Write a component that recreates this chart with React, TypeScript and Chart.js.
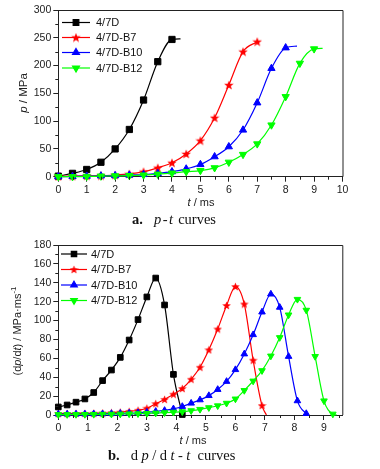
import React, { useEffect, useRef } from 'react';
import { Chart, registerables } from 'chart.js';
import { drawPoint } from 'chart.js/helpers';

Chart.register(...registerables);

const SERIES = ['4/7D', '4/7D-B7', '4/7D-B10', '4/7D-B12'];
const COLORS = ['#000000', '#ff0000', '#0000ff', '#00ff00'];

// ---- Panel a: p - t ----
const tA_D = [0, 0.5, 1, 1.5, 2, 2.5, 3, 3.5, 4];
const pA_D = [1, 6, 13, 26, 50, 85, 138, 207, 247];
const tailA_D = [4.3, 248];

const tA_B7 = [0, 0.5, 1, 1.5, 2, 2.5, 3, 3.5, 4, 4.5, 5, 5.5, 6, 6.5, 7];
const pA_B7 = [0.5, 1, 1.5, 2, 3, 5, 9, 16, 25, 41, 65, 106, 165, 225, 243];

const tA_B10 = [0, 0.5, 1, 1.5, 2, 2.5, 3, 3.5, 4, 4.5, 5, 5.5, 6, 6.5, 7, 7.5, 8];
const pA_B10 = [0, 0.5, 1, 1.5, 2, 3, 4, 6, 9, 14, 22, 36, 54, 84, 133, 195, 232];
const tailA_B10 = [8.4, 235];

const tA_B12 = [0, 0.5, 1, 1.5, 2, 2.5, 3, 3.5, 4, 4.5, 5, 5.5, 6, 6.5, 7, 7.5, 8, 8.5, 9];
const pA_B12 = [0, 0, 0.5, 1, 1.5, 2, 3, 4.5, 6.5, 9, 11, 16, 26, 40, 59, 93, 144, 204, 230];
const tailA_B12 = [9.3, 231];

// ---- Panel b: dp/dt - t ----
const tB = [0, 0.3, 0.6, 0.9, 1.2, 1.5, 1.8, 2.1, 2.4, 2.7, 3.0, 3.3, 3.6, 3.9, 4.2, 4.5,
  4.8, 5.1, 5.4, 5.7, 6.0, 6.3, 6.6, 6.9, 7.2, 7.5, 7.8, 8.1, 8.4, 8.7, 9.0, 9.3];
const rB_D = [8.5, 10.6, 13.6, 17, 23.8, 36.4, 47.6, 61, 79.4, 101, 125, 145, 116.5, 43, 0.5];
const rB_B7 = [1.5, 1.5, 1.6, 1.7, 1.9, 2.1, 2.4, 3, 3.8, 5, 7.2, 12, 16.5, 22, 28, 37.8,
  50.5, 69, 91, 116, 136, 117.5, 58, 10];
const tailB_B7 = [7.05, 0];
const rB_B10 = [1, 1, 1, 1.1, 1.2, 1.3, 1.5, 1.7, 2, 2.4, 3, 3.8, 4.8, 6.5, 9, 12.5,
  16, 20.5, 27, 35.5, 48, 64.6, 85, 109, 128, 114, 62, 15, 1.5];
const tailB_B10 = [8.45, 0];
const rB_B12 = [0.5, 0.5, 0.6, 0.6, 0.7, 0.8, 0.9, 1, 1.2, 1.4, 1.7, 2.1, 2.5, 3, 3.5, 4.6,
  6, 7.8, 9.8, 12.5, 17, 26, 36, 47, 62.5, 82, 106, 122.5, 111, 62, 15, 1];
const tailB_B12 = [9.43, 0];

// Axis ticks
const xMinorA = [0.5, 1.5, 2.5, 3.5, 4.5, 5.5, 6.5, 7.5, 8.5, 9.5];
const yMinorA = [25, 75, 125, 175, 225, 275];
const xMinorB = [0.5, 1.5, 2.5, 3.5, 4.5, 5.5, 6.5, 7.5, 8.5, 9.5];
const yMinorB = [10, 30, 50, 70, 90, 110, 130, 150, 170];

const SANS = '"Liberation Sans", Arial, sans-serif';
const SERIF = '"Liberation Serif", "Times New Roman", serif';

function makeStar(size: number, color: string) {
  const c = document.createElement('canvas');
  c.width = size;
  c.height = size;
  const g = c.getContext('2d')!;
  const cx = size / 2, cy = size / 2 + 0.4;
  const R = size / 2, r = R * 0.42;
  g.beginPath();
  for (let i = 0; i < 10; i++) {
    const ang = -Math.PI / 2 + (i * Math.PI) / 5;
    const rad = i % 2 === 0 ? R : r;
    const px = cx + rad * Math.cos(ang), py = cy + rad * Math.sin(ang);
    if (i === 0) g.moveTo(px, py); else g.lineTo(px, py);
  }
  g.closePath();
  g.fillStyle = color;
  g.fill();
  return c;
}

function build(t: number[], v: number[], tail?: number[]) {
  const d: any[] = v.map((y, i) => ({ x: t[i], y }));
  if (tail) d.push({ x: tail[0], y: tail[1], tail: true });
  return d;
}

const framePlugin = {
  id: 'frameMinor',
  afterDraw(chart: any, _args: any, opts: any) {
    const { ctx, chartArea: a, scales } = chart;
    ctx.save();
    ctx.strokeStyle = '#222';
    ctx.lineWidth = 1;
    ctx.beginPath();
    ctx.moveTo(a.left, a.top + 0.5);
    ctx.lineTo(a.right + 0.5, a.top + 0.5);
    ctx.lineTo(a.right + 0.5, a.bottom);
    ctx.stroke();
    ctx.beginPath();
    for (const v of opts.xMinor || []) {
      const px = Math.round(scales.x.getPixelForValue(v)) + 0.5;
      ctx.moveTo(px, a.bottom);
      ctx.lineTo(px, a.bottom + 3);
    }
    for (const v of opts.yMinor || []) {
      const py = Math.round(scales.y.getPixelForValue(v)) + 0.5;
      ctx.moveTo(a.left - 3, py);
      ctx.lineTo(a.left, py);
    }
    ctx.stroke();
    ctx.restore();
  },
};

const legendPlugin = {
  id: 'insideLegend',
  afterDraw(chart: any, _args: any, opts: any) {
    const { ctx } = chart;
    ctx.save();
    ctx.font = `11px ${SANS}`;
    ctx.textBaseline = 'middle';
    ctx.textAlign = 'left';
    chart.data.datasets.forEach((ds: any, i: number) => {
      const y = opts.ys[i];
      ctx.strokeStyle = ds.borderColor;
      ctx.lineWidth = ds.borderWidth;
      ctx.beginPath();
      ctx.moveTo(opts.x0, y);
      ctx.lineTo(opts.x1, y);
      ctx.stroke();
      ctx.fillStyle = ds.backgroundColor;
      ctx.strokeStyle = ds.borderColor;
      drawPoint(ctx, {
        pointStyle: ds.pointStyle,
        rotation: ds.pointRotation || 0,
        radius: opts.r,
        borderWidth: 1,
      } as any, (opts.x0 + opts.x1) / 2, y);
      ctx.fillStyle = '#111';
      ctx.fillText(SERIES[i], opts.tx, y + 0.5);
    });
    ctx.restore();
  },
};

function datasets(all: any[][], r: number, starSize: number) {
  const styles: any[] = ['rect', makeStar(starSize, COLORS[1]), 'triangle', 'triangle'];
  const rots = [0, 0, 0, 180];
  return all.map((data, i) => ({
    label: SERIES[i],
    data,
    borderColor: COLORS[i],
    backgroundColor: COLORS[i],
    borderWidth: 1.2,
    pointStyle: styles[i],
    pointRotation: rots[i],
    pointRadius: (c: any) => (c.raw && c.raw.tail ? 0 : i === 0 ? r * 1.05 : r),
    pointBorderWidth: 1,
    pointHoverRadius: 0,
    cubicInterpolationMode: 'monotone',
    clip: false,
    order: 4 - i,
  }));
}

function axisOpts(min: number, max: number, step: number, width: number | null, height: number | null) {
  return {
    type: 'linear',
    min,
    max,
    ticks: {
      stepSize: step,
      includeBounds: false,
      color: '#222',
      font: { family: SANS, size: 10.5 },
      padding: 2,
    },
    grid: { drawOnChartArea: false, drawTicks: true, tickLength: 5, tickColor: '#222', tickWidth: 1 },
    border: { display: true, color: '#222', width: 1 },
    afterFit: (s: any) => {
      if (width !== null) s.width = width;
      if (height !== null) s.height = height;
    },
  };
}

function useChart(ref: React.RefObject<HTMLCanvasElement | null>, cfg: () => any) {
  useEffect(() => {
    if (!ref.current) return;
    const ch = new Chart(ref.current, cfg());
    return () => ch.destroy();
  }, []);
}

export default function App() {
  const refA = useRef<HTMLCanvasElement>(null);
  const refB = useRef<HTMLCanvasElement>(null);

  useChart(refA, () => ({
    type: 'line',
    data: {
      datasets: datasets(
        [build(tA_D, pA_D, tailA_D), build(tA_B7, pA_B7), build(tA_B10, pA_B10, tailA_B10), build(tA_B12, pA_B12, tailA_B12)],
        4.2,
        10,
      ),
    },
    options: {
      responsive: false,
      animation: false,
      events: [],
      layout: { padding: { left: 0, right: 37.5, top: 10, bottom: 0 } },
      scales: {
        x: axisOpts(0, 10, 1, null, 23.3),
        y: axisOpts(0, 300, 50, 58.3, null),
      },
      plugins: {
        legend: { display: false },
        tooltip: { enabled: false },
        frameMinor: { xMinor: xMinorA, yMinor: yMinorA },
        insideLegend: { x0: 62, x1: 90, tx: 96, ys: [22.5, 37.5, 52.5, 68], r: 4 },
      },
    },
    plugins: [framePlugin, legendPlugin],
  }));

  useChart(refB, () => ({
    type: 'line',
    data: {
      datasets: datasets(
        [build(tB, rB_D), build(tB, rB_B7, tailB_B7), build(tB, rB_B10, tailB_B10), build(tB, rB_B12, tailB_B12)],
        3.8,
        9,
      ),
    },
    options: {
      responsive: false,
      animation: false,
      events: [],
      layout: { padding: { left: 0, right: 37.7, top: 15, bottom: 0 } },
      scales: {
        x: axisOpts(0, 9.62, 1, null, 25),
        y: axisOpts(0, 180, 20, 58.3, null),
      },
      plugins: {
        legend: { display: false },
        tooltip: { enabled: false },
        frameMinor: { xMinor: xMinorB, yMinor: yMinorB },
        insideLegend: { x0: 61, x1: 87, tx: 91, ys: [24, 39.5, 55, 70.5], r: 3.8 },
      },
    },
    plugins: [framePlugin, legendPlugin],
  }));

  const abs = (l: number, t: number, extra: React.CSSProperties = {}): React.CSSProperties => ({
    position: 'absolute',
    left: l,
    top: t,
    transform: 'translate(-50%, -50%)',
    whiteSpace: 'nowrap',
    ...extra,
  });
  const leftAt = (l: number, t: number, extra: React.CSSProperties = {}): React.CSSProperties => ({
    position: 'absolute',
    left: l,
    top: t,
    transform: 'translate(0, -50%)',
    whiteSpace: 'nowrap',
    ...extra,
  });

  return (
    <div style={{ position: 'fixed', left: 0, top: 0, width: 380, height: 469, background: '#fff', overflow: 'hidden' }}>
      <canvas ref={refA} width={380} height={200} style={{ position: 'absolute', left: 0, top: 0 }} />
      <canvas ref={refB} width={380} height={210} style={{ position: 'absolute', left: 0, top: 230 }} />

      <div style={abs(23, 93, { transform: 'translate(-50%, -50%) rotate(-90deg)', font: `11.5px ${SANS}`, color: '#222' })}>
        <i>p</i> / MPa
      </div>
      <div style={abs(201, 202, { font: `11px ${SANS}`, color: '#222' })}>
        <i>t</i> / ms
      </div>
      <div style={leftAt(132, 219, { font: `14.5px ${SERIF}`, color: '#111' })}>
        <b>a.</b>
        <span style={{ marginLeft: 11, letterSpacing: 1.5 }}><i>p</i>-<i>t</i></span> curves
      </div>

      <div style={abs(17, 331, { transform: 'translate(-50%, -50%) rotate(-90deg)', font: `11px ${SANS}`, color: '#222' })}>
        (d<i>p</i>/d<i>t</i>) / MPa·ms<sup style={{ fontSize: 8, verticalAlign: 'super', lineHeight: 0 }}>-1</sup>
      </div>
      <div style={abs(193, 440, { font: `11px ${SANS}`, color: '#222' })}>
        <i>t</i> / ms
      </div>
      <div style={leftAt(108, 455, { font: `14.5px ${SERIF}`, color: '#111' })}>
        <b>b.</b>
        <span style={{ marginLeft: 11, letterSpacing: 3.5 }}>d<i>p</i>/d<i>t</i>-<i>t</i></span> curves
      </div>
    </div>
  );
}
